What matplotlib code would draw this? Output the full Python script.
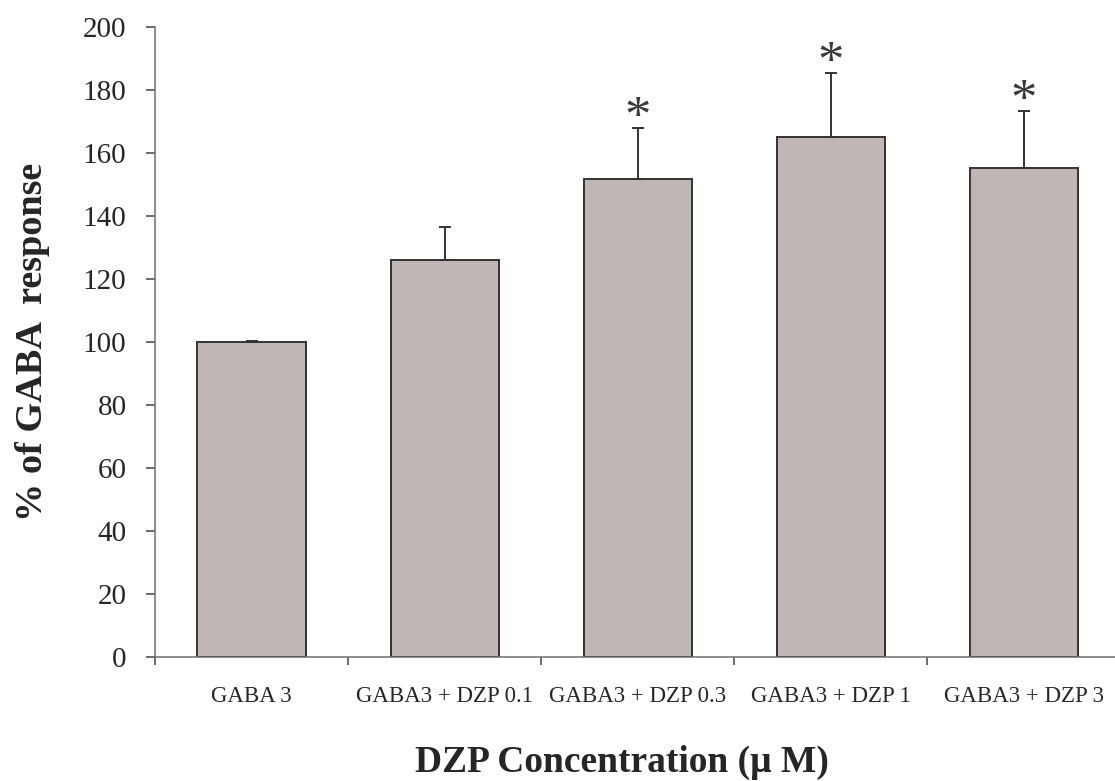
import matplotlib
matplotlib.use("Agg")
import matplotlib.pyplot as plt
import numpy as np

# Mean response (% of GABA 3 uM) and SEM for each treatment
groups = ["GABA 3", "GABA3 + DZP 0.1", "GABA3 + DZP 0.3",
          "GABA3 + DZP 1", "GABA3 + DZP 3"]
means = [100.0, 126.1, 151.7, 165.1, 155.2]
sems = [0.3, 10.5, 16.3, 20.3, 18.3]
significant = [False, False, True, True, True]

plt.rcParams["font.family"] = ["Liberation Serif", "DejaVu Serif"]
text_color = "#262626"
edge_color = "#333333"

fig = plt.figure(figsize=(11.15, 7.81), dpi=100)
ax = fig.add_axes([155 / 1115, 1 - 657.3 / 781, 965.5 / 1115, 630 / 781])

x = np.arange(len(groups))
ax.bar(x, means, width=0.56, color="#c0b7b4", edgecolor=edge_color,
       linewidth=1.4, zorder=2)
ax.errorbar(x, means, yerr=[np.zeros(len(sems)), sems], fmt="none",
            ecolor=edge_color, elinewidth=1.4, capsize=4, capthick=1.4,
            zorder=3)

# Significance markers above the error bars
for xi, m, s, sig in zip(x, means, sems, significant):
    if sig:
        ax.annotate("*", xy=(xi, m + s), xytext=(0, -3),
                    textcoords="offset points", ha="center", va="baseline",
                    fontsize=38, color="#3a3a3a")

ax.set_xlim(-0.5, len(groups) - 0.5)
ax.set_ylim(0, 200)
ax.set_yticks(np.arange(0, 201, 20))

# Category labels sit between the boundary ticks
ax.set_xticks(np.arange(-0.5, len(groups), 1.0))
ax.set_xticklabels([])
ax.set_xticks(x, minor=True)
ax.set_xticklabels(groups, minor=True, fontsize=16.5, color=text_color)
ax.tick_params(axis="x", which="minor", length=0, pad=21)
ax.tick_params(axis="x", which="major", direction="out", length=6,
               width=1.1, color="#444444")
ax.tick_params(axis="y", direction="out", length=6.5, width=1.1,
               color="#444444", labelsize=21, labelcolor=text_color, pad=14)

for side in ["top", "right"]:
    ax.spines[side].set_visible(False)
for side in ["left", "bottom"]:
    ax.spines[side].set_color("#6e6e6e")
    ax.spines[side].set_linewidth(1.1)

fig.text(42 / 1115, 1 - 342 / 781, "% of GABA  response", rotation=90,
         rotation_mode="anchor", ha="center", va="baseline",
         fontsize=27.5, fontweight="bold", color=text_color)
fig.text(622 / 1115, 1 - 771.7 / 781, "DZP Concentration (\u03bc M)",
         ha="center", va="baseline", fontsize=27, fontweight="bold",
         color=text_color)

fig.savefig("out.png", dpi=100, facecolor="white")
